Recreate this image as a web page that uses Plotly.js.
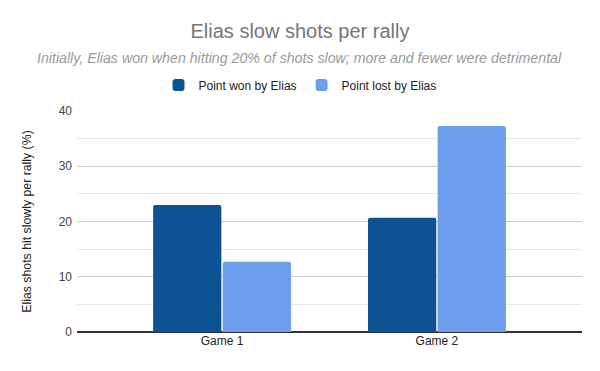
<!DOCTYPE html>
<html>
<head>
<meta charset="utf-8">
<script src="https://cdn.plot.ly/plotly-3.0.1.min.js"></script>
<style>
  html, body { margin: 0; padding: 0; background: #fff; }
  #chart { width: 600px; height: 371px; }
</style>
</head>
<body>
<div id="chart"></div>
<script>
const categories = ["Game 1", "Game 2"];
const seriesNames = ["Point won by Elias", "Point lost by Elias"];
const wonValues = [23.0, 20.7];
const lostValues = [12.7, 37.3];
const yTickValues = [0, 10, 20, 30, 40];
const titleText = "Elias slow shots per rally";
const subtitleText = "Initially, Elias won when hitting 20% of shots slow; more and fewer were detrimental";
const yTitleText = "Elias shots hit slowly per rally (%)";

const FONT = "'Liberation Sans', Arial, sans-serif";

const traces = [
  {
    type: "bar", name: seriesNames[0], x: categories, y: wonValues,
    marker: { color: "#0b5394", cornerradius: 2 },
    hoverinfo: "none"
  },
  {
    type: "bar", name: seriesNames[1], x: categories, y: lostValues,
    marker: { color: "#6d9eeb", cornerradius: 2 },
    hoverinfo: "none"
  }
];

const layout = {
  width: 600, height: 371,
  paper_bgcolor: "#ffffff", plot_bgcolor: "#ffffff",
  font: { family: FONT, size: 12, color: "#222222" },
  margin: { l: 77.3, r: 18.3, t: 111.3, b: 38.7, pad: 0 },
  barmode: "group",
  bargap: 0.352,
  bargroupgap: 0.02,
  title: {
    text: titleText,
    font: { family: FONT, size: 20, color: "#757575" },
    x: 0.5, xanchor: "center", xref: "container",
    y: 1 - 31 / 371, yanchor: "middle", yref: "container"
  },
  annotations: [{
    text: subtitleText, showarrow: false,
    xref: "paper", yref: "paper",
    x: (300 - 77.3) / (581.7 - 77.3), xanchor: "center",
    y: (332.3 - 58) / 221, yanchor: "middle",
    font: { family: FONT, size: 14.2, color: "#999999", style: "italic" }
  }],
  legend: {
    orientation: "h",
    xref: "container", yref: "container",
    x: 0.5, xanchor: "center",
    y: 1 - 85 / 371, yanchor: "middle",
    font: { family: FONT, size: 12, color: "#222222" },
    itemwidth: 30,
    traceorder: "normal"
  },
  xaxis: {
    type: "category",
    range: [-0.675, 1.675],
    showgrid: false, zeroline: false,
    showline: false,
    ticks: "",
    tickfont: { family: FONT, size: 12, color: "#222222" },
    fixedrange: true
  },
  yaxis: {
    range: [0, 40],
    tickvals: yTickValues,
    ticktext: yTickValues.map(String),
    showgrid: true, gridcolor: "#cccccc", gridwidth: 1,
    minor: { dtick: 5, showgrid: true, gridcolor: "#e6e6e6", gridwidth: 1, ticks: "" },
    zeroline: true, zerolinecolor: "#333333", zerolinewidth: 1.3,
    showline: false, ticks: "",
    ticklabelstandoff: 4,
    tickfont: { family: FONT, size: 12, color: "#444444" },
    title: {
      text: yTitleText,
      font: { family: FONT, size: 12.3, color: "#222222" },
      standoff: 24
    },
    automargin: false,
    fixedrange: true
  },
  showlegend: true
};

Plotly.newPlot("chart", traces, layout, { staticPlot: true, displayModeBar: false });
</script>
</body>
</html>
